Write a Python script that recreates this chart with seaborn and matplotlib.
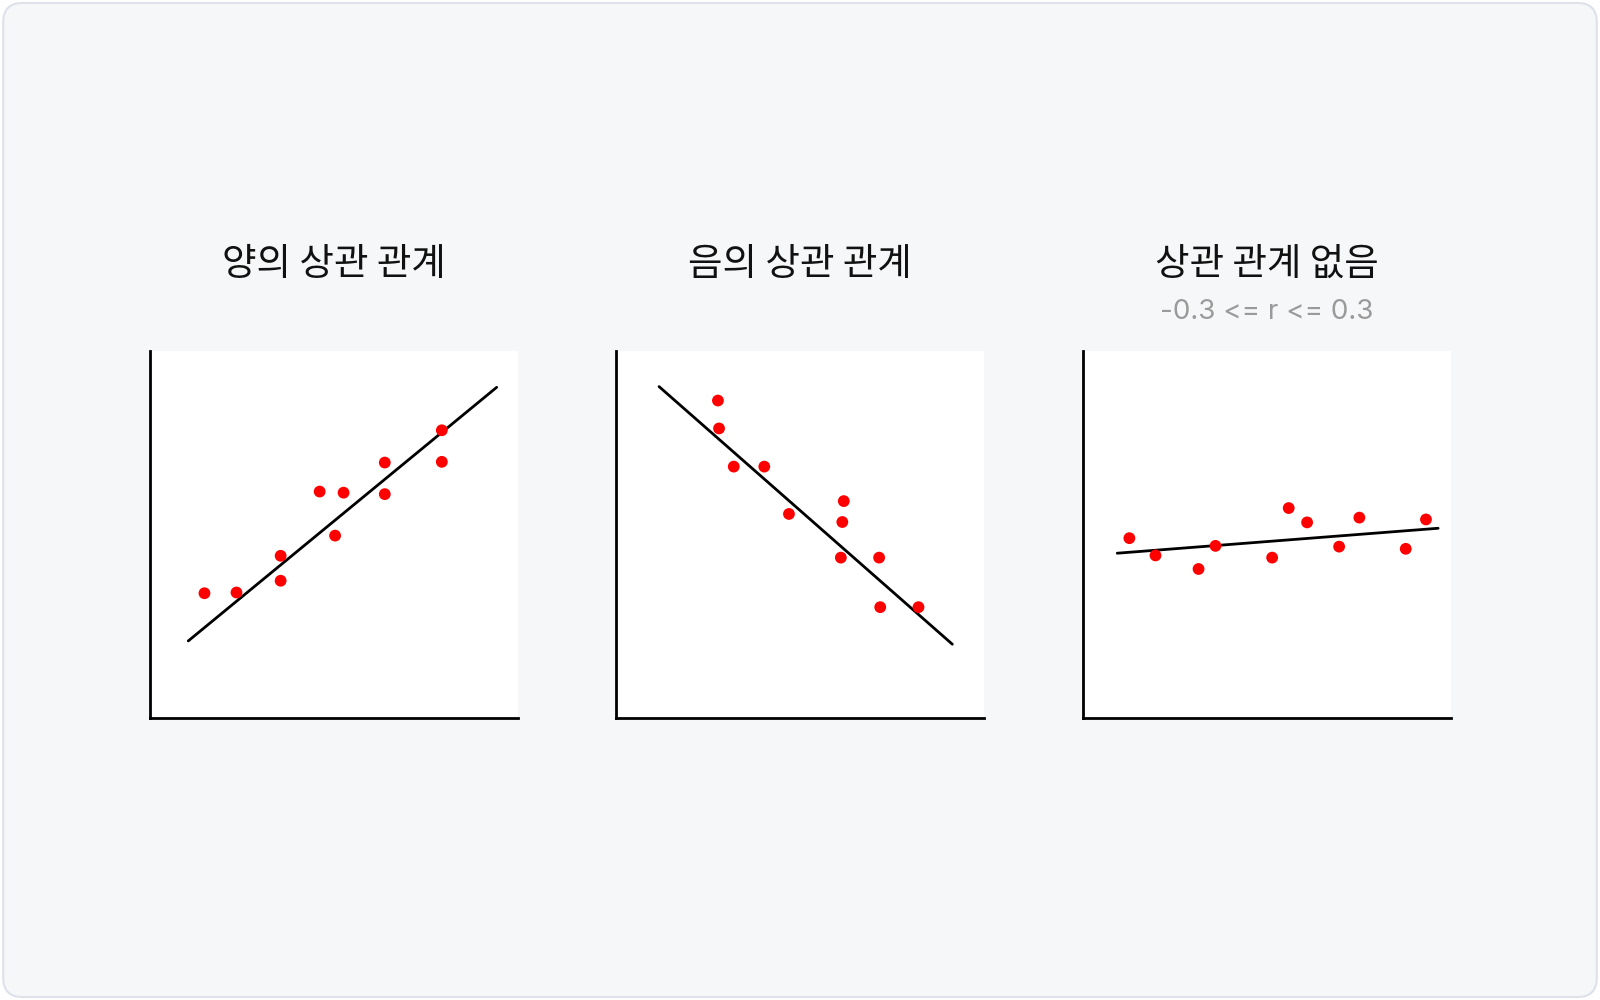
import numpy as np
import pandas as pd
import seaborn as sns
import matplotlib.pyplot as plt
from matplotlib.patches import FancyBboxPatch

# Data (axes scaled 0-100)
titles = ["양의 상관 관계", "음의 상관 관계", "상관 관계 없음"]
subtitles = ["", "", "-0.3 <= r <= 0.3"]

pos_x = [14.8, 23.5, 35.5, 35.5, 46.1, 52.6, 50.3, 63.8, 63.8, 79.3, 79.3]
pos_y = [34.0, 34.2, 44.2, 37.4, 61.7, 61.4, 49.7, 69.6, 61.0, 78.4, 69.8]
pos_line_x = [10.4, 94.2]
pos_line_y = [21.0, 90.1]

neg_x = [27.7, 28.0, 32.0, 40.3, 47.0, 61.9, 61.5, 61.1, 71.5, 71.8, 82.2]
neg_y = [86.5, 78.9, 68.5, 68.5, 55.6, 59.1, 53.4, 43.7, 43.7, 30.2, 30.2]
neg_line_x = [11.7, 91.4]
neg_line_y = [90.3, 20.1]

none_x = [12.6, 19.7, 31.4, 36.0, 51.4, 55.9, 60.9, 69.6, 75.1, 87.7, 93.2]
none_y = [49.0, 44.3, 40.6, 46.9, 43.7, 57.2, 53.3, 46.7, 54.6, 46.1, 54.1]
none_line_x = [9.3, 96.5]
none_line_y = [44.9, 51.7]

panels = [
    (pos_x, pos_y, pos_line_x, pos_line_y),
    (neg_x, neg_y, neg_line_x, neg_line_y),
    (none_x, none_y, none_line_x, none_line_y),
]

sns.set_theme(style="white")
plt.rcParams["font.family"] = ["Noto Sans CJK KR", "DejaVu Sans"]

fig = plt.figure(figsize=(16, 10), dpi=100)
fig.patch.set_facecolor("white")

# Rounded card background (kept behind the axes)
card = FancyBboxPatch(
    (0.002, 0.003), 0.996, 0.994,
    boxstyle="round,pad=0,rounding_size=0.012",
    transform=fig.transFigure,
    facecolor="#f6f7f8", edgecolor="#dfe1ea", linewidth=1.5,
    mutation_aspect=1.6, zorder=-10,
)
fig.patches.append(card)

lefts = [150 / 1600, 616 / 1600, 1083 / 1600]
for i, (xs, ys, lx, ly) in enumerate(panels):
    ax = fig.add_axes([lefts[i], 0.282, 0.23, 0.367])
    ax.set_zorder(1)
    ax.set_facecolor("white")

    df_pts = pd.DataFrame({"x": xs, "y": ys})
    df_line = pd.DataFrame({"x": lx, "y": ly})

    sns.lineplot(data=df_line, x="x", y="y", color="black", linewidth=2.0, ax=ax)
    sns.scatterplot(data=df_pts, x="x", y="y", color="#ff0000", s=72,
                    edgecolor="none", ax=ax, zorder=3)

    ax.set_xlim(0, 100)
    ax.set_ylim(0, 100)
    ax.set_xticks([])
    ax.set_yticks([])
    ax.set_xlabel("")
    ax.set_ylabel("")

    for spine in ["top", "right"]:
        ax.spines[spine].set_visible(False)
    for spine in ["left", "bottom"]:
        ax.spines[spine].set_visible(True)
        ax.spines[spine].set_color("black")
        ax.spines[spine].set_linewidth(2.0)

    cx = lefts[i] + 0.115
    fig.text(cx, 1 - 264 / 1000, titles[i], ha="center", va="center",
             fontsize=27, color="#111111")
    if subtitles[i]:
        fig.text(cx, 1 - 312 / 1000, subtitles[i], ha="center", va="center",
                 fontsize=20, color="#9a9a9a", family=["Inter", "DejaVu Sans"])

fig.savefig("out.png", dpi=100, facecolor=fig.get_facecolor())
